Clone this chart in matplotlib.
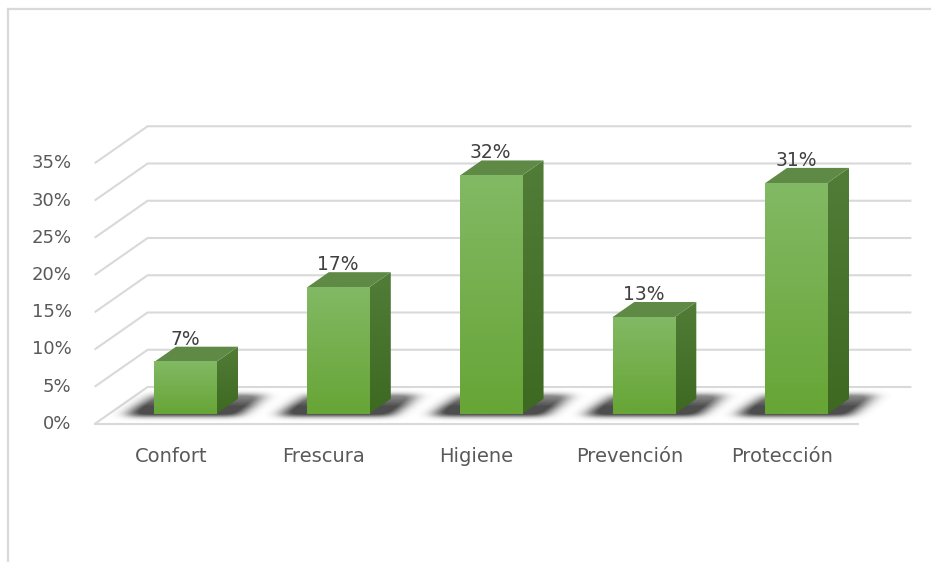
import numpy as np
import matplotlib.pyplot as plt
from matplotlib import patches
from matplotlib.path import Path
from matplotlib.lines import Line2D

categories = ['Confort', 'Frescura', 'Higiene', 'Prevención', 'Protección']
values = [7, 17, 32, 13, 31]
value_labels = ['7%', '17%', '32%', '13%', '31%']
yticks = [0, 5, 10, 15, 20, 25, 30, 35]

W, H = 931, 562

# screen scale of the 3d box (pixels)
PX_CAT = 152.75          # one category step
PX_PCT = 7.45            # one percent
ORIGIN = (171, 424)      # front floor edge, first category, 0%
DEPTH = (53, 37)         # floor depth, front to back wall

DX = DEPTH[0] / PX_CAT
DY = DEPTH[1] / PX_PCT

BAR_HW = 0.203           # half width of a bar (category units)
Z0, Z1 = 0.27, 0.68      # bar depth range on the floor

GRID = '#d9d9d9'
TEXT = '#595959'


def proj(x, v, z=0.0):
    """x = category position, v = percent, z = depth (0 front, 1 back)"""
    return x + z * DX, v + z * DY


def gradient(top, bottom, n=64):
    top = np.array(plt.matplotlib.colors.to_rgb(top))
    bottom = np.array(plt.matplotlib.colors.to_rgb(bottom))
    t = np.linspace(0, 1, n)[:, None, None]
    return top * (1 - t) + bottom * t


def blur1d(a, sigma, axis):
    r = max(1, int(3 * sigma))
    k = np.exp(-0.5 * (np.arange(-r, r + 1) / sigma) ** 2)
    k /= k.sum()
    return np.apply_along_axis(lambda m: np.convolve(m, k, mode='same'), axis, a)


def shadow(ax, i):
    # soft cast shadow on the floor, stretched to the left and back-right
    fx, fy = proj(i - BAR_HW, 0, Z0)
    cx, cy = PX_CAT, PX_PCT
    poly = np.array([(fx - 28 / cx, fy - 2 / cy), (fx + 84 / cx, fy - 2 / cy),
                     (fx + 112 / cx, fy + 20 / cy), (fx, fy + 20 / cy)])
    x0, x1 = fx - 55 / cx, fx + 145 / cx
    y0, y1 = fy - 15 / cy, fy + 40 / cy
    nx, ny = int((x1 - x0) * cx), int((y1 - y0) * cy)
    gx, gy = np.meshgrid(np.linspace(x0, x1, nx), np.linspace(y1, y0, ny))
    inside = Path(poly).contains_points(np.c_[gx.ravel(), gy.ravel()])
    a = inside.reshape(ny, nx).astype(float)
    a = blur1d(blur1d(a, 8.0, 1), 2.5, 0)
    # denser near the bar base, thinning out towards the back
    fade = np.clip(1.25 - (gy - fy) * cy / 30, 0, 1)
    img = np.zeros((ny, nx, 4))
    img[..., :3] = 0.18
    img[..., 3] = np.clip(a * 1.3, 0, 1) * 0.85 * fade
    ax.imshow(img, extent=(x0, x1, y0, y1), aspect='auto',
              interpolation='bilinear', zorder=2)


def bar3d(ax, i, v):
    xl, xr = i - BAR_HW, i + BAR_HW

    # side face
    side = [proj(xr, 0, Z0), proj(xr, 0, Z1), proj(xr, v, Z1), proj(xr, v, Z0)]
    clip = patches.Polygon(side, closed=True, transform=ax.transData)
    xs, ys = zip(*side)
    im = ax.imshow(gradient('#527d38', '#3e6921'),
                   extent=(min(xs), max(xs), min(ys), max(ys)),
                   aspect='auto', interpolation='bilinear', zorder=3)
    im.set_clip_path(clip)

    # top face
    top = [proj(xl, v, Z0), proj(xr, v, Z0), proj(xr, v, Z1), proj(xl, v, Z1)]
    ax.add_patch(patches.Polygon(top, closed=True, facecolor='#5f8a46',
                                 edgecolor='none', zorder=3))

    # front face
    (x0, y0), (x1, y1) = proj(xl, 0, Z0), proj(xr, v, Z0)
    ax.imshow(gradient('#82b964', '#67a536'), extent=(x0, x1, y0, y1),
              aspect='auto', interpolation='bilinear', zorder=4)


fig = plt.figure(figsize=(W / 100, H / 100), dpi=100)
ax = fig.add_axes([0, 0, 1, 1])
ax.set_axis_off()

n = len(categories)
left, right = -0.5, n - 0.5

# back wall gridlines with the diagonal on the left side wall
for t in yticks:
    pts = [proj(left, t, 0), proj(left, t, 1), proj(right, t, 1)]
    ax.plot(*zip(*pts), color=GRID, lw=1.5, zorder=1, solid_capstyle='butt')
    ax.annotate(f'{t}%', proj(left, t, 0), xytext=(-23, 0),
                textcoords='offset pixels', ha='right', va='center',
                fontsize=13, color=TEXT)

# front floor edge
ax.plot(*zip(proj(left, 0, 0), proj(right, 0, 0)), color=GRID, lw=1.5, zorder=1)

for i in range(n):
    shadow(ax, i)

for i, (v, lab) in enumerate(zip(values, value_labels)):
    bar3d(ax, i, v)
    x_front = proj(i, v, Z0)[0]
    y_back = proj(i, v, Z1)[1]
    ax.annotate(lab, (x_front, y_back), xytext=(0, -2),
                textcoords='offset pixels', ha='center', va='bottom',
                fontsize=13.5, color='#404040', zorder=5)
    ax.annotate(categories[i], proj(i, 0, 0), xytext=(0, -33),
                textcoords='offset pixels', ha='center', va='center',
                fontsize=14, color=TEXT)

ax.set_xlim(-ORIGIN[0] / PX_CAT, (W - ORIGIN[0]) / PX_CAT)
ax.set_ylim(-(H - ORIGIN[1]) / PX_PCT, ORIGIN[1] / PX_PCT)

# chart area border (only top and left fall inside the image)
fig.add_artist(Line2D([8 / W, 8 / W], [0, 1 - 9 / H], color='#d9d9d9', lw=1.6))
fig.add_artist(Line2D([8 / W, 1], [1 - 9 / H, 1 - 9 / H], color='#d9d9d9', lw=1.6))

fig.savefig('out.png', dpi=100)
